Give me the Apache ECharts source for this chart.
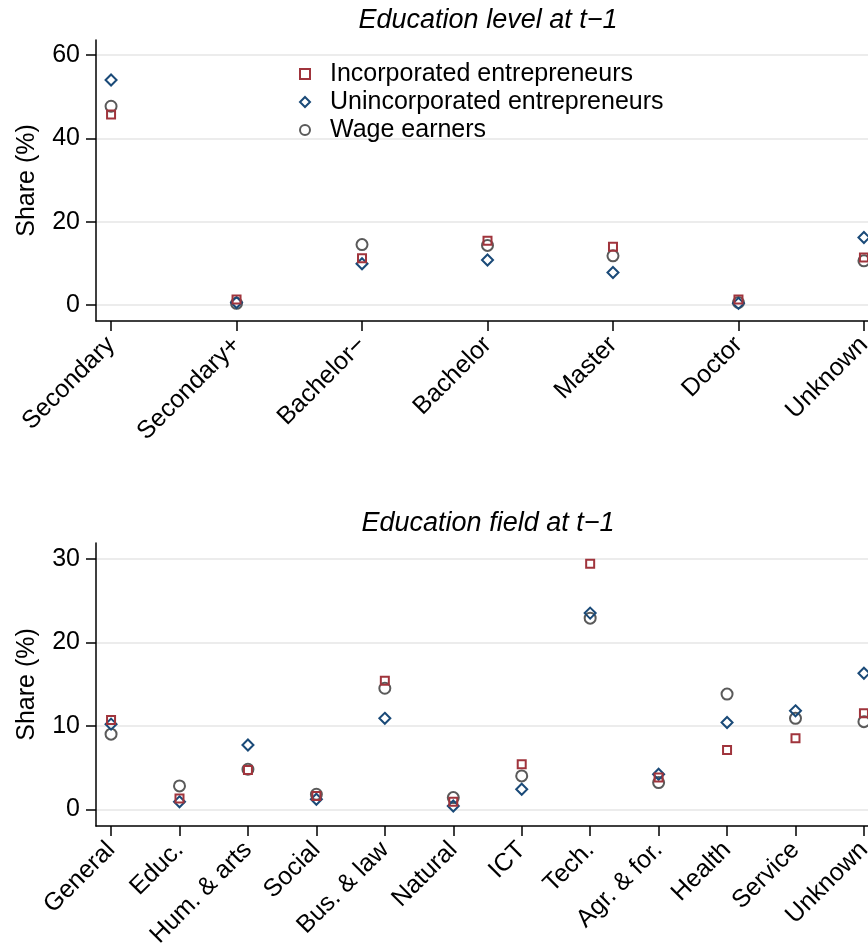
<!DOCTYPE html>
<html><head><meta charset="utf-8">
<script src="https://cdn.jsdelivr.net/npm/echarts@6/dist/echarts.min.js"></script>
<style>html,body{margin:0;padding:0;background:#fff}#c{width:868px;height:944px}</style>
</head><body><div id="c"></div>
<script>
const levelCategories = ['Secondary', 'Secondary+', 'Bachelor\u2212', 'Bachelor', 'Master', 'Doctor', 'Unknown'];
const levelIncorporated = [45.7, 1.3, 11.2, 15.4, 14.0, 1.3, 11.4];
const levelUnincorporated = [54.0, 0.6, 9.9, 10.8, 7.8, 0.4, 16.2];
const levelWage = [47.7, 0.4, 14.5, 14.3, 11.8, 0.6, 10.6];
const fieldCategories = ['General', 'Educ.', 'Hum. & arts', 'Social', 'Bus. & law', 'Natural', 'ICT', 'Tech.', 'Agr. & for.', 'Health', 'Service', 'Unknown'];
const fieldIncorporated = [10.7, 1.3, 4.7, 1.6, 15.4, 0.9, 5.4, 29.4, 3.8, 7.1, 8.5, 11.5];
const fieldUnincorporated = [10.2, 0.9, 7.7, 1.2, 10.9, 0.4, 2.4, 23.5, 4.2, 10.4, 11.8, 16.3];
const fieldWage = [9.0, 2.8, 4.8, 1.8, 14.5, 1.4, 4.0, 22.9, 3.2, 13.8, 10.9, 10.5];
const levelTicks = [0, 20, 40, 60];
const fieldTicks = [0, 10, 20, 30];
const seriesNames = ['Incorporated entrepreneurs', 'Unincorporated entrepreneurs', 'Wage earners'];
const panelTitles = ['Education level at t\u22121', 'Education field at t\u22121'];
const yTitle = 'Share (%)';

const FONT = '"Liberation Sans", Arial, Helvetica, sans-serif';
const colors = ['#a0343c', '#1a4a78', '#5a5a5a'];
const symbols = ['rect', 'diamond', 'circle'];
const sizes = [8, 11, 11];

function xAxisFor(cats, gridIndex, pad) {
  const idx = cats.map((_, i) => i);
  return {
    type: 'value', gridIndex: gridIndex, min: -pad, max: cats.length - 1 + pad,
    axisLine: { show: true, onZero: false, lineStyle: { color: '#000', width: 1.5 } },
    axisTick: { show: true, inside: false, length: 10, customValues: idx, lineStyle: { color: '#000', width: 1.5 } },
    axisLabel: { show: true, customValues: idx, rotate: 45, margin: 20, color: '#000', fontSize: 25, fontFamily: FONT,
      formatter: v => cats[Math.round(v)] },
    splitLine: { show: false }
  };
}
function yAxisFor(ticks, gridIndex, min, max) {
  return {
    type: 'value', gridIndex: gridIndex, min: min, max: max,
    name: yTitle, nameLocation: 'middle', nameGap: 56, nameRotate: 90,
    nameTextStyle: { color: '#000', fontSize: 25, fontFamily: FONT },
    axisLine: { show: true, onZero: false, lineStyle: { color: '#000', width: 1.5 } },
    axisTick: { show: true, inside: false, length: 10, customValues: ticks, lineStyle: { color: '#000', width: 1.5 } },
    axisLabel: { show: true, customValues: ticks, margin: 16, color: '#000', fontSize: 25, fontFamily: FONT },
    splitLine: { show: true, lineStyle: { color: '#e6e6e6', width: 1.5 } }
  };
}
function mk(name, k, data, gi) {
  return {
    type: 'scatter', name: name, xAxisIndex: gi, yAxisIndex: gi,
    symbol: symbols[k], symbolSize: sizes[k],
    data: data.map((v, i) => [i, v]),
    itemStyle: { color: 'rgba(255,255,255,0)', borderColor: colors[k], borderWidth: 2, opacity: 1 },
    emphasis: { disabled: true }, z: 3 + (2 - k)
  };
}
const chart = echarts.init(document.getElementById('c'), null, { renderer: 'canvas' });
chart.setOption({
  backgroundColor: '#fff',
  animation: false,
  title: [
    { text: panelTitles[0], left: 483, top: 2, textAlign: 'center',
      textStyle: { fontStyle: 'italic', fontWeight: 'normal', fontSize: 27, color: '#000', fontFamily: FONT } },
    { text: panelTitles[1], left: 483, top: 505, textAlign: 'center',
      textStyle: { fontStyle: 'italic', fontWeight: 'normal', fontSize: 27, color: '#000', fontFamily: FONT } }
  ],
  legend: {
    data: seriesNames, orient: 'vertical', left: 294, top: 55, itemGap: 0,
    itemWidth: 10, itemHeight: 10,
    textStyle: { color: '#000', fontSize: 25, fontFamily: FONT, lineHeight: 28, padding: [0, 0, 0, 15] }
  },
  grid: [
    { left: 96, right: -11, top: 40, height: 281, outerBoundsMode: 'none', containLabel: false },
    { left: 96, right: -11, top: 543, height: 283, outerBoundsMode: 'none', containLabel: false }
  ],
  xAxis: [xAxisFor(levelCategories, 0, 0.12), xAxisFor(fieldCategories, 1, 0.22)],
  yAxis: [yAxisFor(levelTicks, 0, -3.84, 63.6), yAxisFor(fieldTicks, 1, -2, 31.9)],
  series: [
    mk(seriesNames[0], 0, levelIncorporated, 0),
    mk(seriesNames[1], 1, levelUnincorporated, 0),
    mk(seriesNames[2], 2, levelWage, 0),
    mk(seriesNames[0], 0, fieldIncorporated, 1),
    mk(seriesNames[1], 1, fieldUnincorporated, 1),
    mk(seriesNames[2], 2, fieldWage, 1)
  ]
});
</script></body></html>
